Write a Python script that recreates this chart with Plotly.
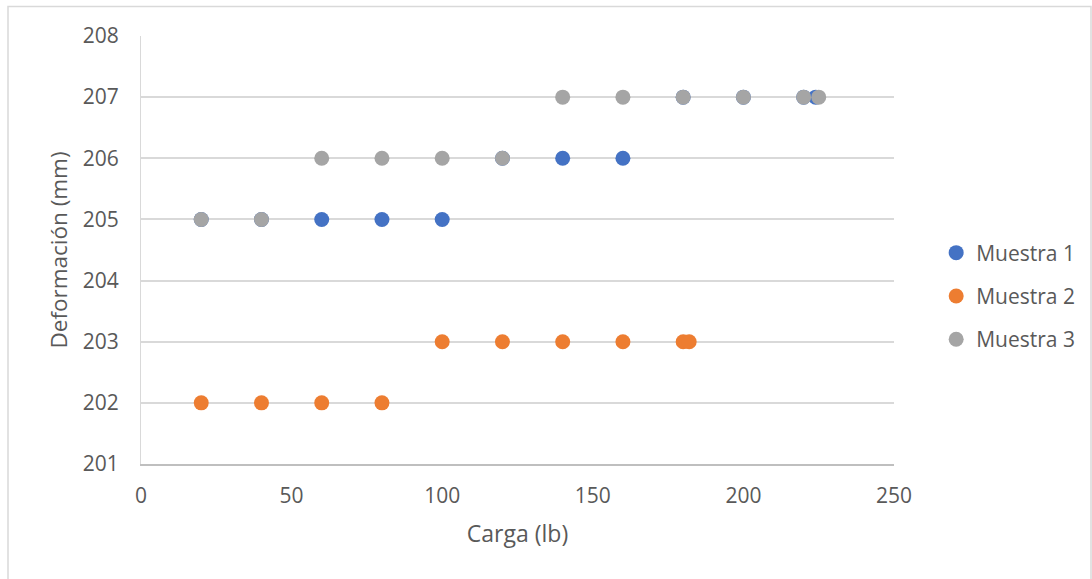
import plotly.graph_objects as go

# Data
m1_carga = [20, 40, 60, 80, 100, 120, 140, 160, 180, 200, 220, 224]
m1_def = [205, 205, 205, 205, 205, 206, 206, 206, 207, 207, 207, 207]

m2_carga = [20, 40, 60, 80, 100, 120, 140, 160, 180, 182]
m2_def = [202, 202, 202, 202, 203, 203, 203, 203, 203, 203]

m3_carga = [20, 40, 60, 80, 100, 120, 140, 160, 180, 200, 220, 225]
m3_def = [205, 205, 206, 206, 206, 206, 207, 207, 207, 207, 207, 207]

series = [
    ("Muestra 1", m1_carga, m1_def, "#4472C4"),
    ("Muestra 2", m2_carga, m2_def, "#ED7D31"),
    ("Muestra 3", m3_carga, m3_def, "#A5A5A5"),
]

FONT = "Open Sans"
fig = go.Figure()
for i, (name, xs, ys, col) in enumerate(series):
    fig.add_trace(go.Scatter(
        x=xs, y=ys, mode="markers", name=name, legendgroup=name,
        marker=dict(size=15, color=col, line=dict(width=0)),
    ))

fig.update_layout(
    width=1092, height=579,
    margin=dict(l=141, r=198, t=36, b=115),
    paper_bgcolor="white", plot_bgcolor="white",
    font=dict(family=FONT, size=21, color="#595959"),
    showlegend=True,
    legend=dict(x=1.056, y=0.3925, xanchor="left", yanchor="middle",
                traceorder="grouped", tracegroupgap=13,
                font=dict(family=FONT, size=21, color="#595959"),
                bgcolor="rgba(0,0,0,0)"),
    xaxis=dict(range=[0, 250], tickvals=[0, 50, 100, 150, 200, 250],
               showgrid=False, zeroline=False,
               showline=True, linecolor="#BFBFBF", linewidth=1.5,
               ticks="", ticklabelstandoff=12,
               title=dict(text="Carga (lb)", font=dict(size=23, color="#595959"), standoff=18)),
    yaxis=dict(range=[201, 208], tickvals=[201, 202, 203, 204, 205, 206, 207, 208],
               showgrid=True, gridcolor="#D9D9D9", gridwidth=1.5, zeroline=False,
               showline=True, linecolor="#D9D9D9", linewidth=1,
               ticks="", ticklabelstandoff=17,
               title=dict(text="Deformación (mm)", font=dict(size=22.5, color="#595959"), standoff=8)),
    shapes=[dict(type="rect", xref="paper", yref="paper",
                 x0=(8 - 141) / 753, x1=(1091 - 141) / 753,
                 y0=(464 - 600) / 428, y1=(464 - 6.5) / 428,
                 line=dict(color="#D9D9D9", width=1.5), layer="below")],
)

fig.write_html("out.html")
